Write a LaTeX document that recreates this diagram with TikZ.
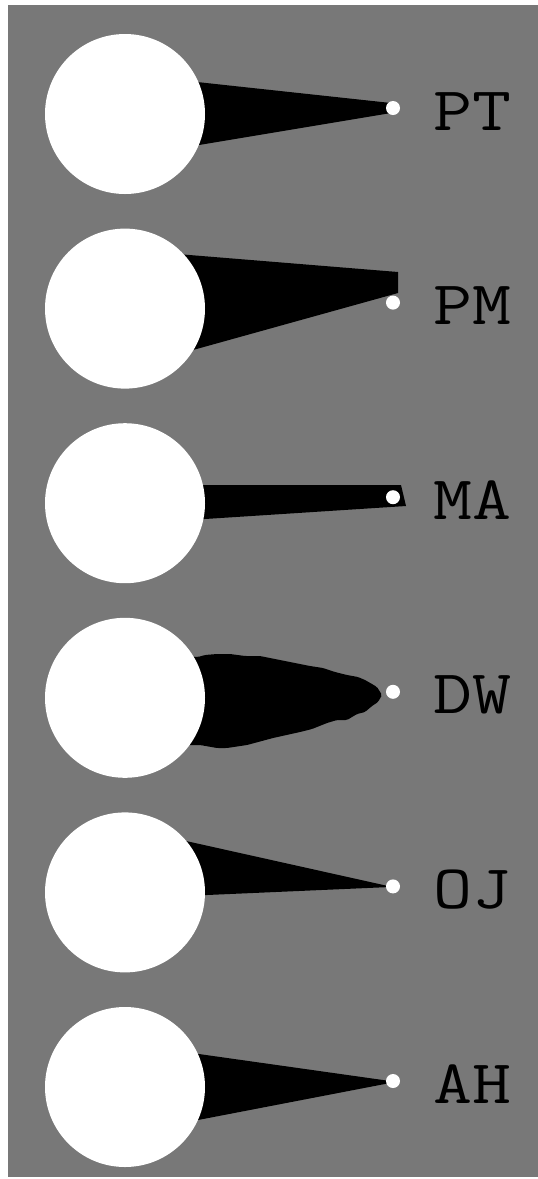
\documentclass[tikz,border=0pt]{standalone}
\usepackage{fontspec}
\newfontfamily\labelfont[FakeStretch=1.22]{Latin Modern Mono}
\definecolor{bggray}{RGB}{120,120,120}
\tikzset{
  bigdisc/.style={circle, fill=white, draw=none, minimum size=160pt, inner sep=0pt},
  tipdot/.style={circle, fill=white, draw=none, minimum size=14pt, inner sep=0pt},
  lbl/.style={anchor=base, inner sep=0pt, font=\labelfont\fontsize{62}{62}\selectfont},
  wedge/.style={fill=black, draw=none}
}
\begin{document}
\begin{tikzpicture}[x=1pt,y=-1pt]
\useasboundingbox (0,0) rectangle (538,1179);
\fill[bggray] (8,5) rectangle (538,1177);

% PT
\fill[wedge] (160,78) -- (391,103) -- (393,108) -- (391,113) -- (160,151.5) -- cycle;
% PM
\fill[wedge] (160,252.6) -- (398,272) -- (398,293) -- (193,350) -- (160,359.2) -- cycle;
% MA
\fill[wedge] (160,485) -- (401,485) -- (406,506) -- (205,519) -- (160,521.9) -- cycle;
% DW
\fill[wedge, rounded corners=1.5pt] (170,655) -- (198,657) -- (205,655) -- (217,654) -- (230,654) -- (245,656) -- (260,656) -- (290,662)
  -- (310,666) -- (323,668) -- (335,672) -- (347,675) -- (358,677) -- (365,680) -- (372,684) -- (377,687) -- (382,695) -- (378,702) -- (372,706) -- (365,712)
  -- (357,714) -- (347,720) -- (337,720) -- (327,723) -- (312,729) -- (300,732) -- (273,738) -- (247,745) -- (227,748) -- (217,748)
  -- (200,745) -- (170,745) -- cycle;
% OJ
\fill[wedge] (160,835.2) -- (388,886) -- (390,887) -- (207,895) -- (160,897) -- cycle;
% AH
\fill[wedge] (160,1048.5) -- (390,1081) -- (390,1083) -- (198,1120) -- (160,1127.5) -- cycle;

\foreach \name/\cy in {PT/114, PM/308.6, MA/503.2, DW/697.8, OJ/892.4, AH/1087} {
  \node[bigdisc] (disc\name) at (125,\cy) {};
  \node[tipdot] (dot\name) at (393,\cy-6) {};
  \node[lbl] (lab\name) at (472,\cy+16) {\name};
}
\end{tikzpicture}
\end{document}
